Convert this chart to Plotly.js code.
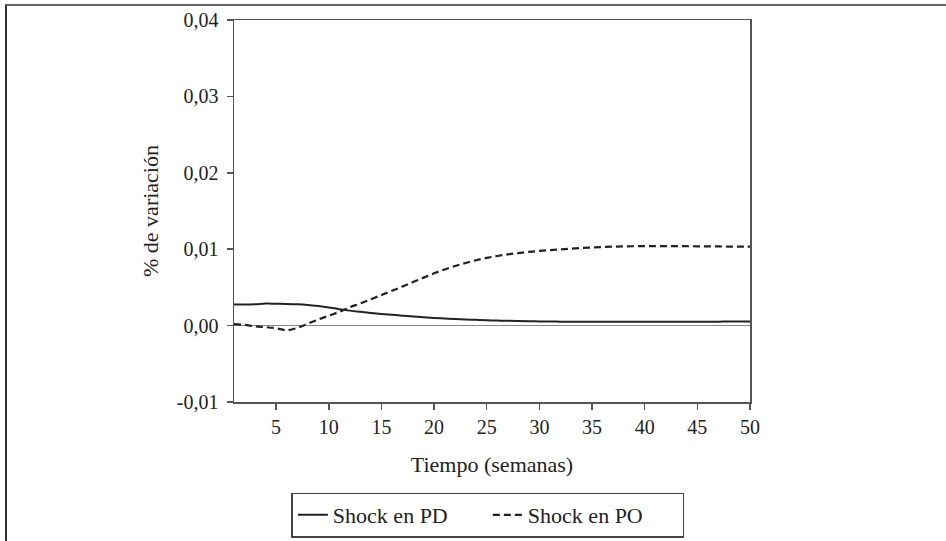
<!DOCTYPE html>
<html>
<head>
<meta charset="utf-8">
<script src="https://cdn.plot.ly/plotly-3.0.1.min.js"></script>
<style>
html,body{margin:0;padding:0;background:#fff;}
#chart{width:946px;height:541px;position:absolute;left:0;top:0;}
#frame{position:absolute;left:5px;top:4px;width:941px;height:537px;border-top:2px solid #666;border-left:2px solid #333;pointer-events:none;}
</style>
</head>
<body>
<div id="chart"></div>
<div id="frame"></div>
<script>
const weeks = [1,2,3,4,5,6,7,8,9,10,11,12,13,14,15,16,17,18,19,20,21,22,23,24,25,26,27,28,29,30,31,32,33,34,35,36,37,38,39,40,41,42,43,44,45,46,47,48,49,50];
const shockPD = [0.00275,0.00275,0.00278,0.00288,0.00286,0.00284,0.00279,0.00270,0.00256,0.00238,0.00215,0.00196,0.00180,0.00165,0.00152,0.00141,0.00130,0.00120,0.00109,0.00100,0.00093,0.00086,0.00080,0.00075,0.00070,0.00066,0.00062,0.00059,0.00057,0.00055,0.00053,0.00052,0.00051,0.00050,0.00050,0.00049,0.00049,0.00049,0.00049,0.00049,0.00050,0.00050,0.00050,0.00051,0.00051,0.00052,0.00052,0.00053,0.00053,0.00054];
const shockPO = [0.00020,0.00010,-0.00010,-0.00020,-0.00035,-0.00060,-0.00030,0.00025,0.00080,0.00130,0.00180,0.00240,0.00290,0.00345,0.00400,0.00455,0.00512,0.00570,0.00628,0.00684,0.00735,0.00780,0.00820,0.00856,0.00886,0.00911,0.00932,0.00949,0.00964,0.00977,0.00988,0.00998,0.01007,0.01015,0.01022,0.01028,0.01033,0.01037,0.01039,0.01040,0.01040,0.01040,0.01040,0.01039,0.01038,0.01037,0.01036,0.01035,0.01035,0.01035];
const yTickVals = [-0.01,0,0.01,0.02,0.03,0.04];
const yTickText = ["-0,01","0,00","0,01","0,02","0,03","0,04"];
const xTickVals = [5,10,15,20,25,30,35,40,45,50];
const seriesNames = ["Shock en PD","Shock en PO"];

const fam = "Liberation Serif, Times New Roman, serif";
const tickFont = {family:fam, size:20, color:"#222"};
const titleFont = {family:fam, size:22, color:"#222"};

const traces = [
  {x:weeks, y:shockPD, mode:"lines", name:seriesNames[0], line:{color:"#222", width:2, shape:"spline"}},
  {x:weeks, y:shockPO, mode:"lines", name:seriesNames[1], line:{color:"#222", width:2.2, dash:"7px,4px", shape:"spline"}}
];

const layout = {
  width:946, height:541,
  paper_bgcolor:"#fff", plot_bgcolor:"#fff",
  font:tickFont,
  showlegend:true,
  margin:{l:234, r:196, t:20, b:139, autoexpand:false},
  xaxis:{
    range:[1,50], tickvals:xTickVals, ticks:"outside", ticklen:6, tickcolor:"#555", tickwidth:1.5,
    showline:true, linecolor:"#555", linewidth:1.5, mirror:true, showgrid:false, zeroline:false,
    tickfont:tickFont,
    title:{text:"Tiempo (semanas)", font:titleFont, standoff:20}, automargin:false
  },
  yaxis:{
    range:[-0.01,0.04], tickvals:yTickVals, ticktext:yTickText, ticks:"outside", ticklen:6, tickcolor:"#555", tickwidth:1.5,
    showline:true, linecolor:"#555", linewidth:1.5, mirror:true, showgrid:false,
    zeroline:true, zerolinecolor:"#888", zerolinewidth:1.5,
    tickfont:tickFont, ticklabelstandoff:4,
    title:{text:"% de variación", font:titleFont, standoff:12}, automargin:false
  },
  legend:{
    orientation:"h", x:0.492, xanchor:"center", y:-0.237, yanchor:"top",
    bordercolor:"#444", borderwidth:1.5, bgcolor:"#fff", font:titleFont,
    entrywidth:150, tracegroupgap:0
  }
};

Plotly.newPlot("chart", traces, layout, {displayModeBar:false, staticPlot:true});
</script>
</body>
</html>
